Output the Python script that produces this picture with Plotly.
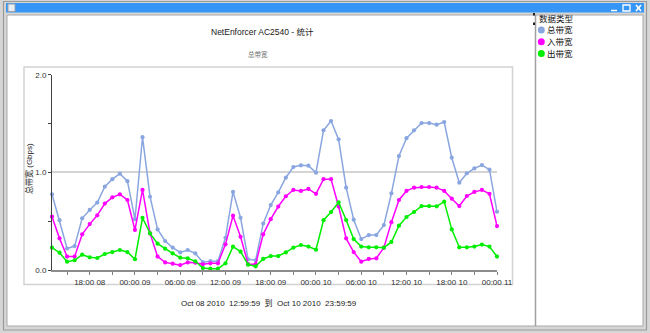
import pandas as pd
import plotly.graph_objects as go

# ---------------- data ----------------
start_time = "2010-10-08 13:00"
n_points = 60
times = pd.date_range(start_time, periods=n_points, freq="h")

series_names = ["总带宽", "入带宽", "出带宽"]
total_bw = [0.775, 0.51, 0.22, 0.245, 0.53, 0.615, 0.69, 0.853, 0.93, 0.986,
            0.91, 0.52, 1.36, 0.75, 0.416, 0.297, 0.23, 0.18, 0.205, 0.17,
            0.08, 0.09, 0.09, 0.33, 0.80, 0.535, 0.11, 0.10, 0.475, 0.665,
            0.795, 0.945, 1.055, 1.072, 1.068, 0.997, 1.43, 1.526, 1.338, 0.843,
            0.515, 0.317, 0.358, 0.358, 0.46, 0.785, 1.167, 1.35, 1.43, 1.505,
            1.505, 1.488, 1.515, 1.15, 0.894, 0.99, 1.04, 1.075, 1.027, 0.597]
in_bw = [0.546, 0.324, 0.137, 0.137, 0.365, 0.47, 0.56, 0.68, 0.744, 0.775,
         0.717, 0.41, 0.82, 0.375, 0.137, 0.078, 0.065, 0.05, 0.078, 0.075,
         0.058, 0.068, 0.068, 0.263, 0.556, 0.34, 0.06, 0.06, 0.365, 0.52,
         0.65, 0.755, 0.82, 0.81, 0.83, 0.78, 0.93, 0.93, 0.65, 0.324,
         0.184, 0.085, 0.113, 0.12, 0.229, 0.49, 0.717, 0.81, 0.843, 0.85,
         0.85, 0.843, 0.81, 0.73, 0.655, 0.758, 0.80, 0.82, 0.78, 0.45]
out_bw = [0.229, 0.177, 0.085, 0.10, 0.157, 0.13, 0.123, 0.164, 0.184, 0.205,
          0.184, 0.11, 0.535, 0.375, 0.27, 0.218, 0.17, 0.126, 0.12, 0.089,
          0.02, 0.014, 0.014, 0.068, 0.239, 0.188, 0.055, 0.038, 0.113, 0.143,
          0.143, 0.18, 0.229, 0.256, 0.24, 0.208, 0.51, 0.594, 0.693, 0.512,
          0.317, 0.24, 0.232, 0.232, 0.229, 0.287, 0.454, 0.543, 0.594, 0.655,
          0.655, 0.652, 0.70, 0.416, 0.232, 0.232, 0.24, 0.26, 0.24, 0.137]
series_values = [total_bw, in_bw, out_bw]
series_colors = ["#8aa6e0", "#ff00ff", "#00ee00"]

y_tick_vals = [0, 1, 2]
y_tick_text = ["0.0", "1.0", "2.0"]

title_text = "NetEnforcer AC2540 - 统计"
subtitle_text = "总带宽"
y_title = "总带宽 (Gbps)"
legend_title = "数据类型"
range_text = "Oct 08 2010\u00a0\u00a012:59:59\u00a0\u00a0到\u00a0\u00a0Oct 10 2010\u00a0\u00a023:59:59"

# ---------------- layout helpers ----------------
W, H = 650, 333
def px(x):
    return x / W
def py(y):
    return 1 - y / H

FONT = "Liberation Sans, Arial, Noto Sans CJK SC, sans-serif"

fig = go.Figure()
for name, vals, col in zip(series_names, series_values, series_colors):
    fig.add_trace(go.Scatter(
        x=times, y=vals, name=name, mode="lines+markers",
        line=dict(color=col, width=1.5),
        marker=dict(color=col, size=4.2),
        cliponaxis=False, showlegend=False,
    ))

shapes = []
# window frame
shapes.append(dict(type="rect", xref="paper", yref="paper", x0=px(3.5), x1=px(646.5), y0=py(330), y1=py(1.5),
                   line=dict(color="#9a9a9a", width=1.2), fillcolor="#d6d6d6", layer="below"))
shapes.append(dict(type="rect", xref="paper", yref="paper", x0=px(6), x1=px(644), y0=py(12.5), y1=py(3),
                   line=dict(width=0), fillcolor="#3696f6", layer="below"))
shapes.append(dict(type="rect", xref="paper", yref="paper", x0=px(7), x1=px(643), y0=py(326), y1=py(15),
                   line=dict(color="#a8a8a8", width=1), fillcolor="white", layer="below"))
# title bar icon
shapes.append(dict(type="rect", xref="paper", yref="paper", x0=px(8), x1=px(15), y0=py(11.5), y1=py(4),
                   line=dict(color="#9aa0a8", width=1), fillcolor="#e8eef4", layer="below"))
# title bar buttons
shapes.append(dict(type="line", xref="paper", yref="paper", x0=px(611), x1=px(617), y0=py(10.5), y1=py(10.5),
                   line=dict(color="white", width=1.5)))
shapes.append(dict(type="rect", xref="paper", yref="paper", x0=px(623), x1=px(630), y0=py(11), y1=py(5),
                   line=dict(color="white", width=1.3)))
shapes.append(dict(type="line", xref="paper", yref="paper", x0=px(636), x1=px(641), y0=py(11), y1=py(5),
                   line=dict(color="white", width=1.6)))
shapes.append(dict(type="line", xref="paper", yref="paper", x0=px(636), x1=px(641), y0=py(5), y1=py(11),
                   line=dict(color="white", width=1.6)))
# divider between chart and legend panel
shapes.append(dict(type="line", xref="paper", yref="paper", x0=px(535.5), x1=px(535.5), y0=py(326), y1=py(15),
                   line=dict(color="#a0a0a0", width=1.5), layer="below"))
shapes.append(dict(type="rect", xref="paper", yref="paper", x0=px(533), x1=px(535), y0=py(15.5), y1=py(13),
                   line=dict(width=0), fillcolor="#202020"))
shapes.append(dict(type="rect", xref="paper", yref="paper", x0=px(533), x1=px(535), y0=py(25), y1=py(22.5),
                   line=dict(width=0), fillcolor="#202020"))
# chart box
shapes.append(dict(type="rect", xref="paper", yref="paper", x0=px(24), x1=px(512.5), y0=py(284.5), y1=py(67),
                   line=dict(color="#d2d2d2", width=1.5), layer="below"))
# legend markers
for i, col in enumerate(series_colors):
    cy = 30 + i * 11.7
    shapes.append(dict(type="circle", xref="paper", yref="paper",
                       x0=px(537.8), x1=px(544.8), y0=py(cy + 3.5), y1=py(cy - 3.5),
                       line=dict(width=0), fillcolor=col))

def ann(text, x, y, size, color, xanchor="center", angle=0):
    return dict(text=text, x=px(x), y=py(y), xref="paper", yref="paper",
                xanchor=xanchor, yanchor="middle", textangle=angle, showarrow=False,
                font=dict(size=size, color=color, family=FONT))

annotations = [
    ann(title_text, 262, 32, 8.5, "#202020"),
    ann(subtitle_text, 258, 55, 6.5, "#707070"),
    ann(y_title, 29, 168, 8, "#202020", angle=-90),
    ann(range_text, 269, 303, 8, "#202020"),
    ann(legend_title, 536.5, 19.5, 8.5, "#101010", xanchor="left"),
]
for i, name in enumerate(series_names):
    annotations.append(ann(name, 545, 30.5 + i * 11.7, 8.5, "#101010", xanchor="left"))

fig.update_layout(
    width=W, height=H,
    margin=dict(l=0, r=0, t=0, b=0, pad=0, autoexpand=False),
    paper_bgcolor="#d6d6d6",
    plot_bgcolor="rgba(0,0,0,0)",
    font=dict(family=FONT, size=8, color="#303030"),
    shapes=shapes,
    annotations=annotations,
    showlegend=False,
    xaxis=dict(
        type="date",
        domain=[px(52), px(497)],
        range=["2010-10-08 12:59:59", "2010-10-11 00:00:00"],
        tick0="2010-10-08 00:00", dtick=6 * 3600000,
        tickformat="%H:%M %d",
        ticks="outside", ticklen=3, tickcolor="#808080", tickwidth=1.2,
        minor=dict(dtick=3 * 3600000, tick0="2010-10-08 00:00", ticks="outside",
                   ticklen=3, tickcolor="#808080", tickwidth=1.2, showgrid=False),
        showline=True, linecolor="#8c8c8c", linewidth=2,
        showgrid=False, zeroline=False, automargin=False,
        tickfont=dict(size=8, color="#303030"),
        fixedrange=True,
    ),
    yaxis=dict(
        domain=[py(270), py(74.7)],
        range=[0, 2],
        tickvals=y_tick_vals, ticktext=y_tick_text,
        ticks="outside", ticklen=3, tickcolor="#404040",
        minor=dict(tickvals=[0.5, 1.5], ticks="outside", ticklen=3, tickcolor="#404040", showgrid=False),
        showline=True, linecolor="#404040", linewidth=1,
        showgrid=True, gridcolor="#d4d4d4", gridwidth=1.5,
        zeroline=False, automargin=False,
        tickfont=dict(size=8, color="#303030"),
        fixedrange=True,
    ),
)

fig.write_html("out.html", config={"displayModeBar": False})
